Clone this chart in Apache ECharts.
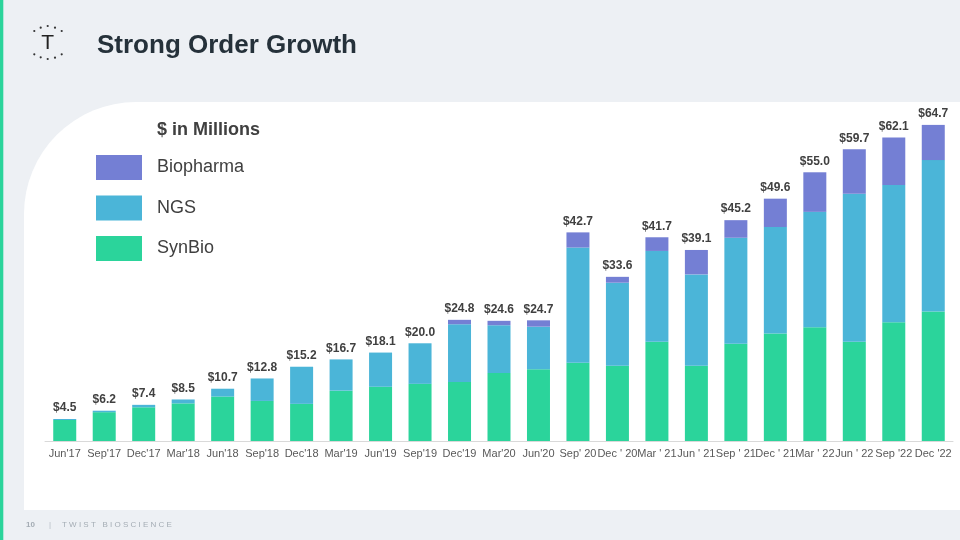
<!DOCTYPE html>
<html>
<head>
<meta charset="utf-8">
<script src="https://cdn.jsdelivr.net/npm/echarts@6/dist/echarts.min.js"></script>
<style>
html,body{margin:0;padding:0;background:#edf0f4;}
#c{width:960px;height:540px;}
</style>
</head>
<body>
<div id="c"></div>
<script>
var categories = ["Jun'17","Sep'17","Dec'17","Mar'18","Jun'18","Sep'18","Dec'18","Mar'19","Jun'19","Sep'19","Dec'19","Mar'20","Jun'20","Sep' 20","Dec ' 20","Mar ' 21","Jun ' 21","Sep ' 21","Dec ' 21","Mar ' 22","Jun ' 22","Sep '22","Dec '22"];
var synBio     = [4.3, 5.9, 6.9, 7.7, 9.1, 8.2, 7.6, 10.3, 11.1, 11.7, 12.1, 13.9, 14.7, 16.0, 15.4, 20.3, 15.4, 19.9, 22.0, 23.3, 20.3, 24.3, 26.5];
var ngs        = [0.2, 0.3, 0.5, 0.8, 1.6, 4.6, 7.6, 6.4, 7.0, 8.3, 11.8, 9.8, 8.7, 23.6, 17.0, 18.6, 18.7, 21.7, 21.8, 23.6, 30.3, 28.1, 31.0];
var biopharma  = [0, 0, 0, 0, 0, 0, 0, 0, 0, 0, 0.9, 0.9, 1.3, 3.1, 1.2, 2.8, 5.0, 3.6, 5.8, 8.1, 9.1, 9.7, 7.2];
var totals     = [4.5, 6.2, 7.4, 8.5, 10.7, 12.8, 15.2, 16.7, 18.1, 20.0, 24.8, 24.6, 24.7, 42.7, 33.6, 41.7, 39.1, 45.2, 49.6, 55.0, 59.7, 62.1, 64.7];
var seriesNames = ["Biopharma","NGS","SynBio"];

var chart = echarts.init(document.getElementById('c'), null, {renderer:'canvas'});
var FONT = "'Liberation Sans', Arial, sans-serif";

var dots = [[34.3,31],[40.7,27.7],[47.7,26],[55,27.7],[61.7,31],[34.3,54.3],[40.7,57.3],[47.7,59],[55,57.7],[61.7,54.3]];
var graphics = [
  {type:'rect', shape:{x:24,y:102,width:936,height:408,r:[112,0,0,0]}, style:{fill:'#ffffff'}, z:-10, silent:true},
  {type:'rect', shape:{x:0,y:0,width:3.3,height:540}, style:{fill:'#2bd49b'}, z:-9, silent:true},
  {type:'text', left:97, top:33, style:{text:'Strong Order Growth', fill:'#25313a', font:"bold 26px "+FONT}},
  {type:'text', x:47.7, y:43.5, style:{text:'T', fill:'#222', font:"21px "+FONT, align:'center', verticalAlign:'middle'}},
  {type:'text', left:157, top:121, style:{text:'$ in Millions', fill:'#404040', font:"bold 18px "+FONT}},
  {type:'text', left:26, top:521, style:{text:'10', fill:'#a4acb4', font:"bold 8px "+FONT}},
  {type:'text', left:49, top:521, style:{text:'|', fill:'#b4bcc4', font:"8px "+FONT}},
  {type:'text', left:62, top:521, style:{text:'T W I S T   B I O S C I E N C E', fill:'#a4acb4', font:"8px "+FONT}}
];
dots.forEach(function(d){
  graphics.push({type:'circle', shape:{cx:d[0], cy:d[1], r:1.1}, style:{fill:'#333'}, silent:true});
});

chart.setOption({
  animation:false,
  backgroundColor:'#edf0f4',
  textStyle:{fontFamily:FONT},
  graphic:graphics,
  legend:{
    data:seriesNames,
    orient:'vertical',
    left:91, top:150,
    icon:'rect',
    itemWidth:46, itemHeight:25, itemGap:15.5,
    textStyle:{fontSize:18, color:'#404040', padding:[0,0,0,10], fontFamily:FONT}
  },
  grid:{left:45, right:7, top:99, bottom:99, containLabel:false},
  xAxis:{
    type:'category', data:categories,
    axisLine:{lineStyle:{color:'#d9d9d9', width:1}},
    axisTick:{show:false},
    axisLabel:{color:'#595959', fontSize:11, margin:7, interval:0, fontFamily:FONT}
  },
  yAxis:{type:'value', min:0, max:70, show:false, splitLine:{show:false}},
  series:[
    {name:'SynBio', type:'bar', stack:'a', data:synBio, barWidth:23, itemStyle:{color:'#2bd49b'}},
    {name:'NGS', type:'bar', stack:'a', data:ngs, barWidth:23, itemStyle:{color:'#4bb5d8'}},
    {name:'Biopharma', type:'bar', stack:'a', data:biopharma, barWidth:23, itemStyle:{color:'#747fd4'}},
    {name:'Total', type:'bar', data:totals, barWidth:23, barGap:'-100%', z:-1, silent:true,
     itemStyle:{color:'rgba(0,0,0,0)'},
     label:{show:true, position:'top', distance:5, color:'#404040', fontSize:12, fontWeight:'bold', fontFamily:FONT,
       formatter:function(p){return '$'+p.value.toFixed(1);}}}
  ]
});
</script>
</body>
</html>
